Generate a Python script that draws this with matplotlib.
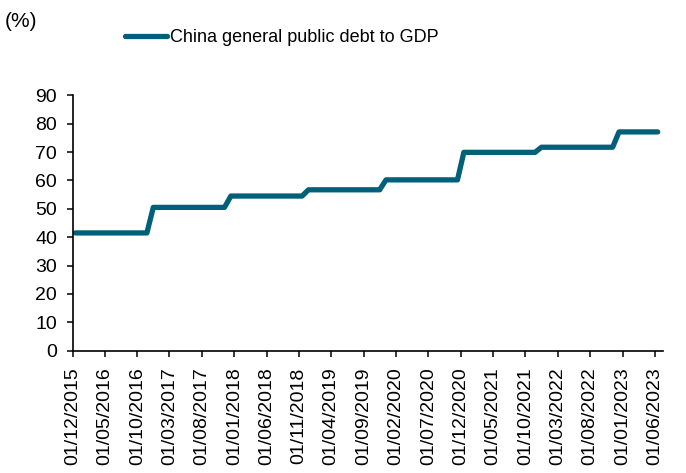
import matplotlib.pyplot as plt
import matplotlib.dates as mdates
import pandas as pd

# monthly readings, Dec 2015 .. Jun 2023 (one row per Dec..Nov year)
debt_to_gdp = [
    41.5, 41.5, 41.5, 41.5, 41.5, 41.5, 41.5, 41.5, 41.5, 41.5, 41.5, 41.5,
    50.5, 50.5, 50.5, 50.5, 50.5, 50.5, 50.5, 50.5, 50.5, 50.5, 50.5, 50.5,
    54.5, 54.5, 54.5, 54.5, 54.5, 54.5, 54.5, 54.5, 54.5, 54.5, 54.5, 54.5,
    56.7, 56.7, 56.7, 56.7, 56.7, 56.7, 56.7, 56.7, 56.7, 56.7, 56.7, 56.7,
    60.2, 60.2, 60.2, 60.2, 60.2, 60.2, 60.2, 60.2, 60.2, 60.2, 60.2, 60.2,
    69.9, 69.9, 69.9, 69.9, 69.9, 69.9, 69.9, 69.9, 69.9, 69.9, 69.9, 69.9,
    71.7, 71.7, 71.7, 71.7, 71.7, 71.7, 71.7, 71.7, 71.7, 71.7, 71.7, 71.7,
    77.1, 77.1, 77.1, 77.1, 77.1, 77.1, 77.1,
]
months = pd.date_range('2015-12-01', '2023-06-01', freq='MS')
tick_dates = pd.date_range('2015-12-01', '2023-06-01', freq='5MS')
series_label = 'China general public debt to GDP'

color = '#00607A'

fig = plt.figure(figsize=(6.86, 4.73), dpi=100)
ax = fig.add_axes([0.1057, 0.2586, 0.9665 - 0.1057, 0.7985 - 0.2586])

# points sit mid-month, as in the original chart
x = months + pd.Timedelta(days=14)
ax.plot(x, debt_to_gdp, color=color, lw=3.8, solid_capstyle='round',
        solid_joinstyle='round', label=series_label)

ax.set_ylim(0, 90)
ax.set_yticks(range(0, 91, 10))
ax.set_xlim(pd.Timestamp('2015-12-01'), pd.Timestamp('2023-07-10'))
ax.set_xticks(tick_dates)
ax.xaxis.set_major_formatter(mdates.DateFormatter('%d/%m/%Y'))

for s in ['top', 'right']:
    ax.spines[s].set_visible(False)
for s in ['left', 'bottom']:
    ax.spines[s].set_linewidth(1.2)

ax.tick_params(axis='y', direction='out', length=4, width=1.1, pad=7,
               labelsize=14)
ax.tick_params(axis='x', direction='out', length=4, width=1.1, pad=8,
               labelsize=14, rotation=90)
for t in ax.get_yticklabels() + ax.get_xticklabels():
    t.set_fontfamily('Liberation Sans')

fig.text(5 / 686, 1 - 12 / 473, '(%)', fontsize=15, family='Liberation Sans',
         ha='left', va='top')

fig.legend(loc='center left', bbox_to_anchor=(125 / 686, 1 - 38 / 473),
           frameon=False, borderpad=0, borderaxespad=0, handlelength=2.3,
           handletextpad=0.2,
           prop={'family': 'Liberation Sans', 'size': 13})

fig.savefig('out.png', dpi=100)
